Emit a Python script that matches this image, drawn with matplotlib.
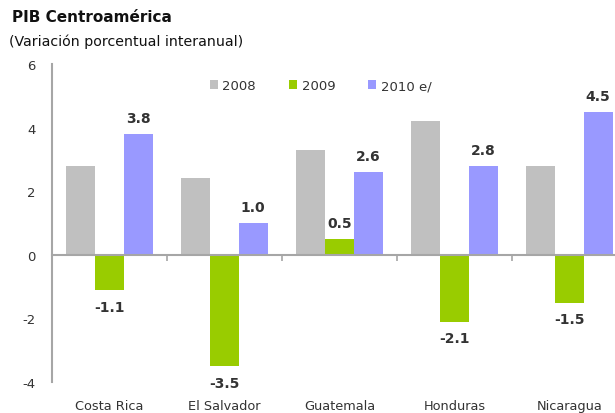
import matplotlib
matplotlib.use("Agg")
import matplotlib.pyplot as plt
import numpy as np

categories = ["Costa Rica", "El Salvador", "Guatemala", "Honduras", "Nicaragua"]
series_names = ["2008", "2009", "2010 e/"]
v2008 = [2.8, 2.4, 3.3, 4.2, 2.8]
v2009 = [-1.1, -3.5, 0.5, -2.1, -1.5]
v2010 = [3.8, 1.0, 2.6, 2.8, 4.5]
yticks = [-4, -2, 0, 2, 4, 6]

colors = ["#C0C0C0", "#99CC00", "#9999FF"]
txt = "#333333"
axc = "#A6A6A6"

fig = plt.figure(figsize=(6.15, 4.14), dpi=100)
ax = fig.add_axes([52/615, 1-383/414, 575/615, 318/414])

x = np.arange(len(categories))
w = 0.25
series = [v2008, v2009, v2010]
for i, (vals, c, name) in enumerate(zip(series, colors, series_names)):
    ax.bar(x + (i-1)*w, vals, width=w, color=c, label=name, zorder=2)

# labels for 2009 and 2010
for i in (1, 2):
    for xi, v in zip(x + (i-1)*w, series[i]):
        if v >= 0:
            ax.annotate(f"{v:.1f}", (xi, v), xytext=(0, 6.5), textcoords="offset points",
                        ha="center", va="bottom", fontsize=10, fontweight="bold", color=txt)
        else:
            ax.annotate(f"{v:.1f}", (xi, v), xytext=(0, -7), textcoords="offset points",
                        ha="center", va="top", fontsize=10, fontweight="bold", color=txt)

ax.set_xlim(-0.5, len(categories)-0.5)
ax.set_ylim(-4, 6)
ax.set_yticks(yticks)
ax.set_yticklabels([str(t) for t in yticks])
ax.tick_params(axis="y", length=0, pad=12, labelsize=9.5, labelcolor=txt)

for s in ("top", "right"):
    ax.spines[s].set_visible(False)
ax.spines["left"].set_color(axc)
ax.spines["left"].set_linewidth(1.5)
ax.spines["bottom"].set_position(("data", 0))
ax.spines["bottom"].set_color(axc)
ax.spines["bottom"].set_linewidth(1.5)
ax.spines["bottom"].set_zorder(3)
ax.set_xticks(np.arange(len(categories)+1) - 0.5)
ax.set_xticklabels([])
ax.tick_params(axis="x", length=4, width=1.2, color=axc, direction="out")

for xi, name in zip(x, categories):
    ax.text(xi, -0.055, name, transform=ax.get_xaxis_transform(), ha="center", va="top",
            fontsize=9.3, color=txt)

leg = ax.legend(loc="upper left", bbox_to_anchor=(146/575, 0.99), ncol=3, frameon=False,
                handlelength=0.6, handleheight=0.6, handletextpad=0.35, columnspacing=2.5,
                fontsize=9.5, labelcolor=txt)

fig.text(12/615, 1-18/414, "PIB Centroamérica", fontsize=11, fontweight="bold", color="#111111",
         va="center", ha="left")
fig.text(9/615, 1-42/414, "(Variación porcentual interanual)", fontsize=10.2, color="#111111",
         va="center", ha="left")

fig.savefig("out.png", dpi=100)
